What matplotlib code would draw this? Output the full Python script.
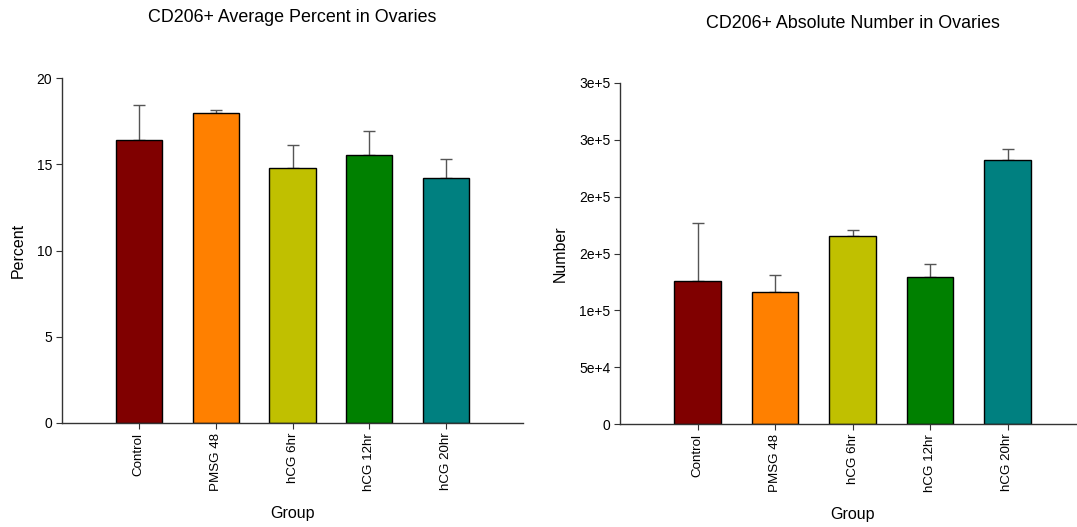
import matplotlib
matplotlib.use("Agg")
import matplotlib.pyplot as plt
from matplotlib.ticker import FixedLocator, FixedFormatter

plt.rcParams["font.family"] = ["Liberation Sans", "DejaVu Sans"]

groups = ["Control", "PMSG 48", "hCG 6hr", "hCG 12hr", "hCG 20hr"]
colors = ["#800000", "#ff8000", "#c0c000", "#008000", "#008080"]

pct_mean = [16.4, 17.95, 14.8, 15.55, 14.2]
pct_err = [2.05, 0.2, 1.3, 1.35, 1.1]

num_mean = [126000, 116000, 165500, 129000, 232000]
num_err = [50500, 15500, 5000, 11800, 10300]

num_ticks = [0, 50000, 100000, 150000, 200000, 250000, 300000]
num_labels = ["0", "5e+4", "1e+5", "2e+5", "2e+5", "3e+5", "3e+5"]

W, H = 1077, 527
fig = plt.figure(figsize=(W / 100, H / 100), dpi=100)


def px_axes(x0, x1, ytop, ybot):
    return fig.add_axes([x0 / W, 1 - ybot / H, (x1 - x0) / W, (ybot - ytop) / H])


def draw_panel(ax, means, errs):
    x = range(len(groups))
    ax.bar(x, means, width=0.6, color=colors, edgecolor="black", linewidth=1.0,
           zorder=2)
    ax.errorbar(x, means, yerr=[[0] * len(errs), errs], fmt="none",
                ecolor="#555555", elinewidth=1.0, capsize=4, capthick=1.0,
                zorder=1)
    ax.set_xlim(-1, 5)
    ax.set_xticks(list(x))
    ax.set_xticklabels(groups, rotation=90, fontsize=9.6)
    for s in ("top", "right"):
        ax.spines[s].set_visible(False)
    for s in ("left", "bottom"):
        ax.spines[s].set_color("#333333")
        ax.spines[s].set_linewidth(1.0)
    ax.tick_params(axis="both", direction="out", length=4, width=0.8,
                   color="#333333", pad=3)
    ax.tick_params(axis="y", labelsize=10)
    ax.set_xlabel("Group", fontsize=11.5, labelpad=11)


# left panel: percent
ax1 = px_axes(62, 523, 78, 423)
draw_panel(ax1, pct_mean, pct_err)
ax1.set_ylim(0, 20)
ax1.set_yticks([0, 5, 10, 15, 20])
ax1.set_ylabel("Percent", fontsize=11.5, labelpad=8)
fig.text(292 / W, 1 - 18 / H, "CD206+ Average Percent in Ovaries",
         ha="center", va="center", fontsize=12.9)

# right panel: absolute number
ax2 = px_axes(620, 1085, 83, 424)
draw_panel(ax2, num_mean, num_err)
ax2.set_ylim(0, 300000)
ax2.yaxis.set_major_locator(FixedLocator(num_ticks))
ax2.yaxis.set_major_formatter(FixedFormatter(num_labels))
ax2.set_ylabel("Number", fontsize=11.5, labelpad=8)
fig.text(853 / W, 1 - 23 / H, "CD206+ Absolute Number in Ovaries",
         ha="center", va="center", fontsize=12.9)

fig.savefig("out.png", dpi=100)
plt.close(fig)
